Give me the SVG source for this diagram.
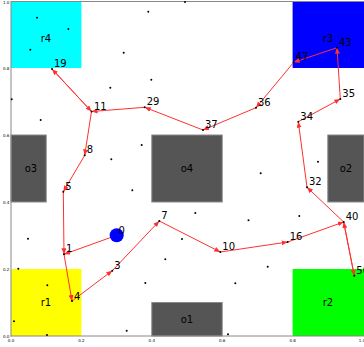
<svg xmlns="http://www.w3.org/2000/svg" width="364" height="347" viewBox="0 0 364 347">
<style>
.lbl{font-family:"DejaVu Sans",sans-serif;font-size:10px;fill:#000}
.tick{font-family:"DejaVu Sans",sans-serif;font-size:4px;fill:#000}
.obs{fill:#555555;stroke:#8a8a8a;stroke-width:1}
.e{stroke:#ff3030;stroke-width:1;fill:none;marker-end:url(#ah)}
.pt{fill:#000}
</style>
<defs>
<marker id="ah" markerUnits="userSpaceOnUse" markerWidth="7" markerHeight="6" refX="6" refY="2.5" orient="auto">
<path d="M0,0 L6,2.5 L0,5 z" fill="#ff3030"/>
</marker>
</defs>
<rect width="364" height="347" fill="#fff"/>
<g id="regions">
<g id="r4"><rect x="11" y="1.5" width="70.4" height="66.5" fill="#00ffff"/><text class="lbl" x="46" y="42" text-anchor="middle">r4</text></g>
<g id="r3"><rect x="292.6" y="1.5" width="71.4" height="66.5" fill="#0000ff"/><text class="lbl" x="328" y="42" text-anchor="middle">r3</text></g>
<g id="r1"><rect x="11" y="269" width="70.4" height="67" fill="#ffff00"/><text class="lbl" x="46" y="306" text-anchor="middle">r1</text></g>
<g id="r2"><rect x="292.6" y="269" width="71.4" height="67" fill="#00ff00"/><text class="lbl" x="328" y="306" text-anchor="middle">r2</text></g>
<g id="o3"><rect class="obs" x="11" y="135" width="35.2" height="67"/><text class="lbl" x="31" y="172" text-anchor="middle">o3</text></g>
<g id="o4"><rect class="obs" x="151.8" y="135" width="70.4" height="67"/><text class="lbl" x="187" y="172" text-anchor="middle">o4</text></g>
<g id="o2"><rect class="obs" x="327.8" y="135" width="36.2" height="67"/><text class="lbl" x="346" y="172" text-anchor="middle">o2</text></g>
<g id="o1"><rect class="obs" x="151.8" y="302.5" width="70.4" height="33.5"/><text class="lbl" x="187" y="323" text-anchor="middle">o1</text></g>
</g>
<g id="axes" stroke="#888" stroke-width="1">
<line x1="11" y1="1.5" x2="364" y2="1.5"/>
<line x1="11" y1="1" x2="11" y2="336.5"/>
<line x1="10.5" y1="336" x2="364" y2="336"/>
</g>
<g id="ticklabels">
<text class="tick" x="3" y="337.5">0.0</text>
<text class="tick" x="3" y="270.5">0.2</text>
<text class="tick" x="3" y="203.5">0.4</text>
<text class="tick" x="3" y="136.5">0.6</text>
<text class="tick" x="3" y="69.5">0.8</text>
<text class="tick" x="3" y="3.5">1.0</text>
<text class="tick" x="11" y="342" text-anchor="middle">0.0</text>
<text class="tick" x="81.4" y="342" text-anchor="middle">0.2</text>
<text class="tick" x="151.8" y="342" text-anchor="middle">0.4</text>
<text class="tick" x="222.2" y="342" text-anchor="middle">0.6</text>
<text class="tick" x="292.6" y="342" text-anchor="middle">0.8</text>
<text class="tick" x="362" y="342" text-anchor="middle">1.0</text>
</g>
<g id="samples" class="pt">
<circle cx="37" cy="17.7" r="1"/><circle cx="68.3" cy="29" r="1"/><circle cx="30.3" cy="49.7" r="1"/>
<circle cx="148.3" cy="11.7" r="1"/><circle cx="123.7" cy="52.7" r="1"/><circle cx="151.3" cy="79.7" r="1"/>
<circle cx="110.3" cy="87.7" r="1"/><circle cx="11.7" cy="99.3" r="1"/><circle cx="40.7" cy="120" r="1"/>
<circle cx="185" cy="2" r="1"/>
<circle cx="141.7" cy="145" r="1"/><circle cx="111.3" cy="159.3" r="1"/><circle cx="132.3" cy="190.3" r="1"/>
<circle cx="318" cy="161.7" r="1"/><circle cx="260.7" cy="173.3" r="1"/><circle cx="195.3" cy="213" r="1"/>
<circle cx="248.5" cy="220.2" r="1"/><circle cx="299.3" cy="216" r="1"/>
<circle cx="28" cy="238.7" r="1"/><circle cx="18.3" cy="268.7" r="1"/><circle cx="47.3" cy="285.3" r="1"/>
<circle cx="14" cy="321.3" r="1"/><circle cx="47" cy="335" r="1"/><circle cx="126.7" cy="330.7" r="1"/>
<circle cx="145.3" cy="283" r="1"/><circle cx="165.3" cy="259.3" r="1"/><circle cx="182" cy="239" r="1"/>
<circle cx="267.7" cy="266.7" r="1"/><circle cx="235.3" cy="283.3" r="1"/><circle cx="228" cy="334.3" r="1"/>
</g>
<g id="connectors">
<line class="e" x1="116.7" y1="235.3" x2="64" y2="254.3"/>
<line class="e" x1="64" y1="254.3" x2="72" y2="301"/>
<line class="e" x1="72" y1="301" x2="112.3" y2="270.7"/>
<line class="e" x1="112.3" y1="270.7" x2="159.3" y2="221"/>
<line class="e" x1="159.3" y1="221" x2="220.3" y2="252"/>
<line class="e" x1="220.3" y1="252" x2="287.7" y2="242"/>
<line class="e" x1="287.7" y1="242" x2="343.7" y2="222"/>
<line class="e" x1="343.7" y1="222" x2="354.3" y2="275.7"/>
<line class="e" x1="354.3" y1="275.7" x2="343.7" y2="222"/>
<line class="e" x1="343.7" y1="222" x2="307" y2="187.3"/>
<line class="e" x1="307" y1="187.3" x2="298.3" y2="121.7"/>
<line class="e" x1="298.3" y1="121.7" x2="340.3" y2="99"/>
<line class="e" x1="340.3" y1="99" x2="337" y2="47.7"/>
<line class="e" x1="337" y1="47.7" x2="293.7" y2="62.3"/>
<line class="e" x1="293.7" y1="62.3" x2="256" y2="107.7"/>
<line class="e" x1="256" y1="107.7" x2="203" y2="130"/>
<line class="e" x1="203" y1="130" x2="144.7" y2="107.3"/>
<line class="e" x1="144.7" y1="107.3" x2="91.5" y2="111.5"/>
<line class="e" x1="91.5" y1="111.5" x2="52" y2="69"/>
<line class="e" x1="52" y1="69" x2="91.5" y2="111.5"/>
<line class="e" x1="91.5" y1="111.5" x2="84.7" y2="155.3"/>
<line class="e" x1="84.7" y1="155.3" x2="63.3" y2="191.7"/>
<line class="e" x1="63.3" y1="191.7" x2="64" y2="254.3"/>
</g>
<g id="n0"><circle cx="116.7" cy="235.3" r="7" fill="#0000ff"/><text class="lbl" x="118.5" y="234">0</text></g>
<g id="n1"><circle class="pt" cx="64" cy="254.3" r="1"/><text class="lbl" x="66" y="252.3">1</text></g>
<g id="n4"><circle class="pt" cx="72" cy="301" r="1"/><text class="lbl" x="74" y="299.5">4</text></g>
<g id="n3"><circle class="pt" cx="112.3" cy="270.7" r="1"/><text class="lbl" x="114.3" y="268.7">3</text></g>
<g id="n7"><circle class="pt" cx="159.3" cy="221" r="1"/><text class="lbl" x="161.3" y="219">7</text></g>
<g id="n10"><circle class="pt" cx="220.3" cy="252" r="1"/><text class="lbl" x="222.3" y="250">10</text></g>
<g id="n16"><circle class="pt" cx="287.7" cy="242" r="1"/><text class="lbl" x="289.7" y="240">16</text></g>
<g id="n40"><circle class="pt" cx="343.7" cy="222" r="1"/><text class="lbl" x="345.7" y="220">40</text></g>
<g id="n50"><circle class="pt" cx="354.3" cy="275.7" r="1"/><text class="lbl" x="356.3" y="273.7">50</text></g>
<g id="n32"><circle class="pt" cx="307" cy="187.3" r="1"/><text class="lbl" x="309" y="185.3">32</text></g>
<g id="n34"><circle class="pt" cx="298.3" cy="121.7" r="1"/><text class="lbl" x="300.3" y="119.7">34</text></g>
<g id="n35"><circle class="pt" cx="340.3" cy="99" r="1"/><text class="lbl" x="342.3" y="97">35</text></g>
<g id="n43"><circle class="pt" cx="337" cy="47.7" r="1"/><text class="lbl" x="339" y="45.7">43</text></g>
<g id="n47"><circle class="pt" cx="293.7" cy="62.3" r="1"/><text class="lbl" x="295.7" y="60.3">47</text></g>
<g id="n36"><circle class="pt" cx="256" cy="107.7" r="1"/><text class="lbl" x="258" y="105.7">36</text></g>
<g id="n37"><circle class="pt" cx="203" cy="130" r="1"/><text class="lbl" x="205" y="128">37</text></g>
<g id="n29"><circle class="pt" cx="144.7" cy="107.3" r="1"/><text class="lbl" x="146.7" y="105.3">29</text></g>
<g id="n11"><circle class="pt" cx="91.5" cy="111.5" r="1"/><text class="lbl" x="94" y="110">11</text></g>
<g id="n19"><circle class="pt" cx="52" cy="69" r="1"/><text class="lbl" x="54" y="66.5">19</text></g>
<g id="n8"><circle class="pt" cx="84.7" cy="155.3" r="1"/><text class="lbl" x="86.7" y="153.3">8</text></g>
<g id="n5"><circle class="pt" cx="63.3" cy="191.7" r="1"/><text class="lbl" x="65.3" y="189.7">5</text></g>
</svg>
